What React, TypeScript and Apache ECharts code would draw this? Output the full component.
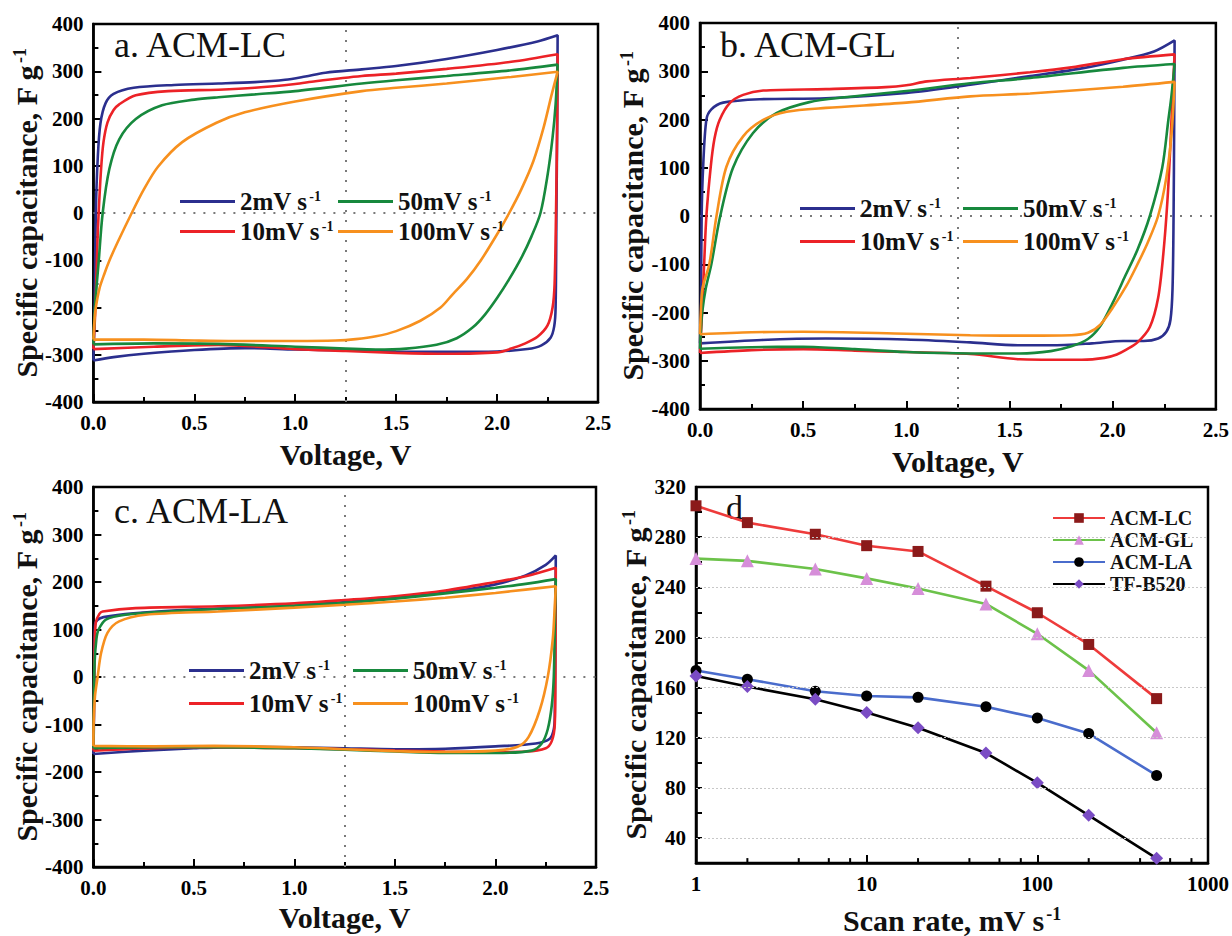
import { useEffect, useRef } from 'react';
import * as echarts from 'echarts';

type Pt = [number, number];

// Scan-rate curves shared by the three cyclic voltammetry panels
const RATE_NAMES = ['2mV', '10mV', '50mV', '100mV'];
const RATE_COLORS = ['#2b2f8e', '#ec2227', '#17893d', '#f7901e'];

// a. ACM-LC  (voltage V, specific capacitance F/g), closed loops
const LC_2: Pt[] = [[0,-312],[0.006,-200],[0.012,0],[0.022,120],[0.035,190],[0.06,232],[0.1,252],[0.2,265],[0.4,271],[0.62,274],[0.8,277],[0.95,282],[1.05,289],[1.15,297],[1.33,304],[1.5,311],[1.75,326],[2.0,345],[2.2,363],[2.3,376],[2.298,200],[2.294,0],[2.29,-200],[2.283,-240],[2.265,-264],[2.22,-280],[2.15,-288],[2.0,-293],[1.75,-294],[1.5,-293],[1.25,-291],[1.0,-289],[0.75,-286],[0.5,-290],[0.25,-298],[0.1,-305],[0,-312]];
const LC_10: Pt[] = [[0,-288],[0.01,-200],[0.02,-60],[0.026,0],[0.038,93],[0.05,150],[0.07,192],[0.1,218],[0.128,230],[0.21,249],[0.37,258],[0.62,261],[0.8,265],[1.0,273],[1.1,279],[1.33,290],[1.5,295],[1.75,305],[2.07,320],[2.3,336],[2.298,200],[2.292,0],[2.285,-150],[2.275,-200],[2.25,-238],[2.2,-262],[2.14,-276],[2.07,-287],[2.0,-295],[1.75,-298],[1.5,-296],[1.25,-292],[1.0,-288],[0.62,-279],[0.3,-283],[0,-288]];
const LC_50: Pt[] = [[0,-278],[0.007,-203],[0.026,-104],[0.046,0],[0.079,93],[0.128,156],[0.21,199],[0.34,228],[0.5,240],[0.62,245],[0.8,251],[1.0,258],[1.33,274],[1.5,281],[1.75,290],[2.07,302],[2.3,314],[2.29,230],[2.275,160],[2.25,80],[2.215,0],[2.17,-50],[2.12,-95],[2.06,-140],[2.0,-180],[1.94,-215],[1.88,-242],[1.8,-265],[1.7,-279],[1.55,-287],[1.4,-289],[1.25,-287],[1.0,-283],[0.62,-277],[0.3,-276],[0,-278]];
const LC_100: Pt[] = [[0,-268],[0.005,-230],[0.012,-200],[0.03,-160],[0.055,-128],[0.08,-100],[0.12,-62],[0.19,0],[0.25,50],[0.32,98],[0.44,150],[0.61,191],[0.75,213],[1.0,236],[1.33,258],[1.5,265],[1.75,274],[2.07,288],[2.3,299],[2.27,250],[2.23,180],[2.18,110],[2.12,50],[2.06,0],[2.0,-45],[1.92,-100],[1.85,-140],[1.78,-172],[1.72,-200],[1.62,-228],[1.5,-250],[1.4,-261],[1.3,-267],[1.2,-270],[1.0,-271],[0.7,-271],[0.5,-270],[0.25,-268],[0,-268]];

// b. ACM-GL
const GL_2: Pt[] = [[0,-264],[0.004,-200],[0.008,0],[0.015,100],[0.031,200],[0.055,221],[0.112,235],[0.29,242],[0.61,244],[1.0,255],[1.31,272],[1.6,290],[1.85,306],[2.05,324],[2.2,341],[2.3,364],[2.298,200],[2.295,0],[2.29,-150],[2.28,-215],[2.26,-240],[2.22,-254],[2.15,-259],[2.05,-259],[1.9,-264],[1.7,-268],[1.55,-268],[1.31,-262],[1.0,-256],[0.61,-254],[0.3,-257],[0,-264]];
const GL_10: Pt[] = [[0,-284],[0.01,-200],[0.02,-100],[0.031,0],[0.052,102],[0.07,160],[0.095,199],[0.144,234],[0.209,251],[0.306,260],[0.61,263],[0.9,267],[1.0,271],[1.1,279],[1.31,286],[1.6,298],[1.8,308],[2.05,325],[2.3,335],[2.29,250],[2.28,150],[2.265,30],[2.245,-80],[2.22,-170],[2.18,-230],[2.12,-262],[2.066,-277],[2.02,-287],[1.96,-294],[1.85,-298],[1.75,-298],[1.55,-297],[1.31,-286],[1.0,-282],[0.75,-279],[0.5,-276],[0.25,-278],[0,-284]];
const GL_50: Pt[] = [[0,-275],[0.004,-240],[0.01,-202],[0.028,-150],[0.055,-100],[0.098,0],[0.16,100],[0.257,172],[0.37,213],[0.53,236],[0.7,246],[1.0,259],[1.31,275],[1.6,286],[2.05,307],[2.3,315],[2.285,250],[2.27,200],[2.24,100],[2.18,0],[2.12,-70],[2.06,-125],[2.0,-180],[1.94,-228],[1.88,-255],[1.8,-270],[1.7,-280],[1.55,-285],[1.31,-285],[1.0,-282],[0.75,-276],[0.5,-271],[0.25,-272],[0,-275]];
const GL_100: Pt[] = [[0,-245],[0.004,-200],[0.012,-150],[0.045,-100],[0.08,0],[0.128,102],[0.209,165],[0.306,199],[0.42,216],[0.61,224],[1.0,235],[1.31,248],[1.6,254],[2.05,268],[2.3,278],[2.285,170],[2.26,80],[2.22,0],[2.17,-55],[2.12,-100],[2.066,-145],[2.0,-190],[1.94,-225],[1.88,-242],[1.8,-247],[1.5,-248],[1.31,-247],[1.0,-244],[0.5,-240],[0.25,-241],[0,-245]];

// c. ACM-LA
const LA_2: Pt[] = [[0,-162],[0.003,-80],[0.005,50],[0.008,110],[0.02,120],[0.05,126],[0.2,134],[0.5,142],[1.0,150],[1.25,158],[1.5,167],[1.75,178],[2.0,195],[2.15,214],[2.25,236],[2.3,256],[2.298,100],[2.295,-80],[2.29,-110],[2.27,-130],[2.2,-140],[2.0,-146],[1.75,-151],[1.5,-152],[1.25,-150],[1.0,-148],[0.75,-147],[0.5,-150],[0.25,-155],[0,-162]];
const LA_10: Pt[] = [[0,-155],[0.003,-50],[0.006,60],[0.012,115],[0.03,133],[0.046,138],[0.21,145],[0.62,149],[1.0,155],[1.25,162],[1.5,170],[1.75,182],[2.0,200],[2.15,212],[2.3,230],[2.298,0],[2.295,-100],[2.28,-135],[2.25,-150],[2.15,-157],[2.0,-158],[1.75,-157],[1.5,-155],[1.25,-152],[1.0,-150],[0.6,-148],[0.3,-150],[0,-155]];
const LA_50: Pt[] = [[0,-150],[0.002,-50],[0.006,30],[0.015,80],[0.026,100],[0.062,121],[0.16,131],[0.375,138],[0.62,143],[1.0,150],[1.25,156],[1.5,165],[1.75,176],[2.0,188],[2.15,196],[2.3,206],[2.295,100],[2.29,0],[2.28,-60],[2.26,-110],[2.23,-140],[2.18,-155],[2.0,-160],[1.75,-160],[1.5,-157],[1.25,-153],[1.0,-150],[0.6,-148],[0.3,-148],[0,-150]];
const LA_100: Pt[] = [[0,-145],[0.001,-100],[0.008,-40],[0.021,0],[0.038,50],[0.07,93],[0.128,117],[0.26,131],[0.62,138],[1.0,146],[1.25,152],[1.5,159],[1.75,167],[2.0,177],[2.15,184],[2.3,191],[2.295,150],[2.285,80],[2.26,0],[2.22,-70],[2.165,-126],[2.11,-147],[2.0,-155],[1.75,-158],[1.5,-156],[1.25,-152],[1.0,-148],[0.6,-145],[0.3,-146],[0,-145]];

const CV_PANELS = [
  { title: 'a. ACM-LC', loops: [LC_2, LC_10, LC_50, LC_100] },
  { title: 'b. ACM-GL', loops: [GL_2, GL_10, GL_50, GL_100] },
  { title: 'c. ACM-LA', loops: [LA_2, LA_10, LA_50, LA_100] },
];

// Dotted guide lines drawn across each CV panel
const GUIDE_VOLTAGE = 1.25;
const GUIDE_CAPACITANCE = 0;

// d. rate capability
const SCAN_RATES = [1, 2, 5, 10, 20, 50, 100, 200, 500];
const CAP_LC = [305, 291.6, 282.3, 273.2, 268.6, 240.9, 219.7, 194.4, 151.2];
const CAP_GL = [262.9, 261.1, 254.6, 247.1, 239.1, 226.7, 202.9, 173.7, 124.0];
const CAP_LA = [173.7, 166.7, 157.1, 153.3, 152.2, 144.7, 135.7, 123.3, 89.9];
const CAP_TF = [169.3, 160.8, 150.7, 140.1, 127.9, 107.8, 84.0, 58.1, 23.8];
const RATE_SERIES = [
  { name: 'ACM-LC', values: CAP_LC, line: '#ee3b3b', marker: '#8b1a1a', symbol: 'rect', size: 11 },
  { name: 'ACM-GL', values: CAP_GL, line: '#6cc24a', marker: '#d68ed9', symbol: 'triangle', size: 13 },
  { name: 'ACM-LA', values: CAP_LA, line: '#4a6ccc', marker: '#000000', symbol: 'circle', size: 11 },
  { name: 'TF-B520', values: CAP_TF, line: '#000000', marker: '#7a4cc4', symbol: 'diamond', size: 13 },
];
const LOG_MINOR_TICKS = [2, 4, 6, 8, 20, 40, 60, 80, 200, 400, 600, 800];
const D_GRID_LINES = [40, 80, 120, 160, 200, 240, 280];
const D_Y_MIN = 20;
const D_Y_MAX = 320;

const SERIF = '"Liberation Serif", "Times New Roman", serif';

const GRIDS = [
  { left: 90, top: 24, width: 508, height: 378 },
  { left: 700, top: 23, width: 516, height: 386 },
  { left: 90, top: 487, width: 506, height: 380 },
  { left: 696, top: 487, width: 512, height: 387 },
];

// Rich-text styles: base text pushed down by `lift`, exponent pinned to the line top
function supRich(size: number, supSize: number, lift: number) {
  return {
    t: {
      fontFamily: SERIF, fontWeight: 'bold', fontSize: size, color: '#111',
      lineHeight: size, verticalAlign: 'bottom', padding: [lift, 0, 0, 0],
    },
    s: {
      fontFamily: SERIF, fontWeight: 'bold', fontSize: supSize, color: '#111',
      lineHeight: supSize, verticalAlign: 'top', padding: [0, 0, 0, 2],
    },
  };
}

const tickLabel = { color: '#000', fontFamily: SERIF, fontWeight: 'bold', fontSize: 21 };
const frameLine = { show: true, onZero: false, lineStyle: { color: '#000', width: 2.5 } };
const tickStyle = { show: true, inside: true, length: 8, lineStyle: { color: '#000', width: 2 } };
const minorStyle = { show: true, splitNumber: 2, length: 5, lineStyle: { color: '#000', width: 2 } };

const Y_NAME = '{t|Specific capacitance, F g}{s|-1}';

function yName(gap: number) {
  return {
    name: Y_NAME,
    nameLocation: 'middle',
    nameRotate: 90,
    nameGap: gap,
    nameTextStyle: { rich: supRich(30, 18, 10) },
  };
}

function cvLegend(left: number, top: number, names: string[], gap: number) {
  return {
    orient: 'vertical',
    left,
    top,
    padding: 0,
    data: names,
    icon: 'rect',
    itemWidth: 55,
    itemHeight: 3,
    itemGap: gap,
    selectedMode: false,
    formatter: (n: string) => `{t|${n} s}{s|-1}`,
    textStyle: { rich: supRich(25, 14, 8) },
  };
}

function buildOption() {
  const xAxis: any[] = [];
  const yAxis: any[] = [];
  const series: any[] = [];

  CV_PANELS.forEach((panel, p) => {
    xAxis.push({
      gridIndex: p, type: 'value', min: 0, max: 2.5, interval: 0.5,
      axisLine: frameLine, axisTick: tickStyle, minorTick: minorStyle,
      splitLine: { show: false }, minorSplitLine: { show: false },
      axisLabel: { ...tickLabel, margin: 10, formatter: (v: number) => v.toFixed(1) },
      name: 'Voltage, V', nameLocation: 'middle', nameGap: p === 2 ? 35 : 37,
      nameTextStyle: { fontFamily: SERIF, fontWeight: 'bold', fontSize: 30, color: '#111' },
    });
    yAxis.push({
      gridIndex: p, type: 'value', min: -400, max: 400, interval: 100,
      axisLine: frameLine, axisTick: tickStyle, minorTick: minorStyle,
      splitLine: { show: false }, minorSplitLine: { show: false },
      axisLabel: { ...tickLabel, margin: 10 },
      ...yName(48),
    });
    panel.loops.forEach((loop, k) => {
      series.push({
        type: 'line', name: RATE_NAMES[k], xAxisIndex: p, yAxisIndex: p,
        data: loop, showSymbol: false, smooth: 0.3, clip: true,
        lineStyle: { color: RATE_COLORS[k], width: 2.6 },
        itemStyle: { color: RATE_COLORS[k] },
        z: 3,
        markLine: k === 0 ? {
          silent: true, symbol: ['none', 'none'], label: { show: false },
          lineStyle: { color: '#7a7a7a', type: [2, 8], width: 2 },
          data: [{ xAxis: GUIDE_VOLTAGE }, { yAxis: GUIDE_CAPACITANCE }],
          z: 1,
        } : undefined,
      });
    });
  });

  // panel d
  xAxis.push({
    gridIndex: 3, type: 'log', logBase: 10, min: 1, max: 1000,
    axisLine: frameLine, axisTick: tickStyle, splitLine: { show: false },
    axisLabel: { ...tickLabel, margin: 10, formatter: (v: number) => String(Math.round(v)) },
    name: '{t|Scan rate, mV s}{s|-1}', nameLocation: 'middle', nameGap: 26,
    nameTextStyle: { rich: supRich(30, 18, 10) },
  });
  yAxis.push({
    gridIndex: 3, type: 'value', min: D_Y_MIN, max: D_Y_MAX, interval: 20,
    axisLine: frameLine, axisTick: { ...tickStyle, length: 6 }, splitLine: { show: false },
    axisLabel: { ...tickLabel, margin: 10, formatter: (v: number) => (v % 40 === 0 ? String(v) : '') },
    ...yName(46),
  });

  series.push({
    type: 'custom', name: 'minor', xAxisIndex: 3, yAxisIndex: 3, silent: true, clip: false,
    data: LOG_MINOR_TICKS.map((v) => [v, D_Y_MIN]),
    renderItem: (_params: any, api: any) => {
      const pt = api.coord([api.value(0), D_Y_MIN]);
      return {
        type: 'line',
        shape: { x1: pt[0], y1: pt[1], x2: pt[0], y2: pt[1] - 5 },
        style: { stroke: '#000', lineWidth: 2 },
      };
    },
    markLine: {
      silent: true, symbol: ['none', 'none'], label: { show: false },
      lineStyle: { color: '#c8c8c8', type: [2, 2], width: 1.2 },
      data: D_GRID_LINES.map((v) => ({ yAxis: v })),
    },
    z: 1,
  });

  RATE_SERIES.forEach((s) => {
    series.push({
      type: 'line', name: s.name, xAxisIndex: 3, yAxisIndex: 3,
      data: SCAN_RATES.map((r, i) => [r, s.values[i]]),
      symbol: s.symbol, symbolSize: s.size, showSymbol: true,
      lineStyle: { color: s.line, width: 2.6 },
      itemStyle: { color: s.marker },
      z: 3,
    });
  });

  const titleFont = (size: number) => ({ fontFamily: SERIF, fontSize: size, fill: '#111' });

  return {
    animation: false,
    backgroundColor: '#fff',
    grid: GRIDS.map((g) => ({ ...g, show: true, borderColor: '#000', borderWidth: 2.5, backgroundColor: 'transparent' })),
    xAxis,
    yAxis,
    legend: [
      cvLegend(180, 181, ['2mV', '10mV'], -3),
      cvLegend(338, 181, ['50mV', '100mV'], -3),
      cvLegend(800, 188, ['2mV', '10mV'], 0),
      cvLegend(963, 188, ['50mV', '100mV'], 0),
      cvLegend(189, 650, ['2mV', '10mV'], 0),
      cvLegend(353, 650, ['50mV', '100mV'], 0),
      {
        orient: 'vertical', left: 1052, top: 508, padding: 0,
        data: RATE_SERIES.map((s) => s.name),
        itemWidth: 52, itemHeight: 12, itemGap: 2, selectedMode: false,
        textStyle: { fontFamily: SERIF, fontWeight: 'bold', fontSize: 20, color: '#111' },
      },
    ],
    graphic: [
      { type: 'text', left: 114, top: 27, style: { text: CV_PANELS[0].title, ...titleFont(36) } },
      { type: 'text', left: 720, top: 27, style: { text: CV_PANELS[1].title, ...titleFont(36) } },
      { type: 'text', left: 114, top: 493, style: { text: CV_PANELS[2].title, ...titleFont(36) } },
      { type: 'text', left: 726, top: 490, style: { text: 'd', ...titleFont(34) } },
    ],
    series,
  };
}

export default function App() {
  const ref = useRef<HTMLDivElement>(null);
  useEffect(() => {
    if (!ref.current) return;
    const chart = echarts.init(ref.current, undefined, { renderer: 'svg' });
    chart.setOption(buildOption() as any);
    return () => chart.dispose();
  }, []);
  return (
    <div
      ref={ref}
      style={{ position: 'absolute', left: 0, top: 0, width: 1232, height: 936, background: '#fff' }}
    />
  );
}
